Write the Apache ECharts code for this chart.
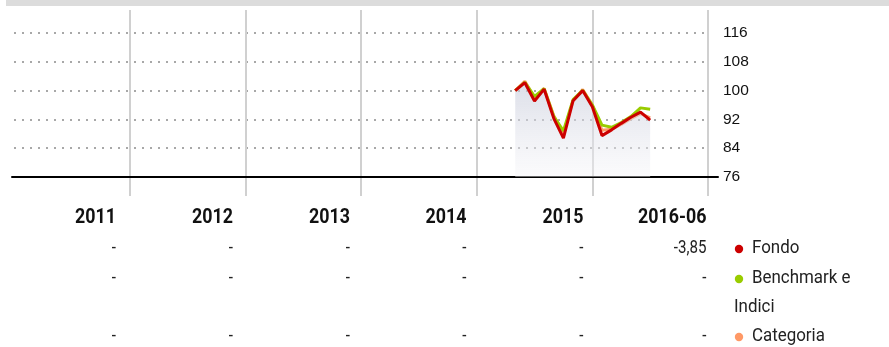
<!DOCTYPE html>
<html>
<head>
<meta charset="utf-8">
<script src="https://cdn.jsdelivr.net/npm/echarts@6/dist/echarts.min.js"></script>
<style>
  html, body { margin: 0; padding: 0; background: #fff; }
  #topbar { position: absolute; left: 6px; top: 0; width: 883px; height: 6px; background: #dcdcdc; }
  #chart { width: 889px; height: 347px; }
</style>
</head>
<body>
<div id="topbar"></div>
<div id="chart"></div>
<script>
// Monthly growth of 100, month-end values
const months = ['2015-04','2015-05','2015-06','2015-07','2015-08','2015-09','2015-10',
                '2015-11','2015-12','2016-01','2016-02','2016-03','2016-04','2016-05','2016-06'];
const fondo      = [100.0, 102.2, 97.1, 100.4, 92.3, 86.8, 97.2, 100.0, 95.5, 87.5, 89.1, 90.9, 92.6, 94.0, 91.8];
const benchmark  = [100.0, 102.3, 98.4, 100.5, 92.8, 88.8, 97.5, 100.1, 96.0, 90.4, 89.8, 91.1, 92.8, 95.2, 94.8];
const categoria  = [100.0, 102.6, 98.0, 100.6, 93.0, 88.2, 97.1, 100.3, 96.0, 89.0, 89.3, 90.6, 92.2, 93.6, 92.4];

// Axis ticks
const yTicks = [76, 84, 92, 100, 108, 116];
const startYear = 2011, endYear = 2017;

// Annual returns table
const years        = ['2011', '2012', '2013', '2014', '2015', '2016-06'];
const fondoRet     = ['-', '-', '-', '-', '-', '-3,85'];
const benchRet     = ['-', '-', '-', '-', '-', '-'];
const categoriaRet = ['-', '-', '-', '-', '-', '-'];
const legendItems  = [
  { name: 'Fondo', color: '#cc0000' },
  { name: 'Benchmark e', name2: 'Indici', color: '#99cc00' },
  { name: 'Categoria', color: '#ff9966' }
];

// month-end position measured in months from Jan 2011
function monthPos(s) {
  const [y, m] = s.split('-').map(Number);
  return (y - startYear) * 12 + m;
}
const toPairs = vals => vals.map((v, i) => [monthPos(months[i]), v]);

const tableFont = 'Roboto, "Liberation Sans", sans-serif';
const xMax = (endYear - startYear) * 12;

const chart = echarts.init(document.getElementById('chart'), null, { renderer: 'canvas' });

// table column right edges and row centres
const colRight = [116, 233, 350, 466.5, 583.5, 706.5];
const rowYear = 218, rowFondo = 248.5, rowBench = 278.5, rowIndici = 307.5, rowCat = 336.5;

// narrow text: horizontally squeezed around its anchor point
function narrowText(x, y, text, font, align, squeeze, fill) {
  return { type: 'text', x: x, y: y, scaleX: squeeze,
    style: { text: text, font: font, fill: fill, align: align, verticalAlign: 'middle' } };
}

const graphics = [];
years.forEach((t, i) => {
  graphics.push(narrowText(colRight[i], rowYear, t, 'bold 21px ' + tableFont, 'right', 0.85, '#111'));
});
[[fondoRet, rowFondo], [benchRet, rowBench], [categoriaRet, rowCat]].forEach(([arr, ry]) => {
  arr.forEach((t, i) => {
    graphics.push(narrowText(colRight[i], ry, t, '18px ' + tableFont, 'right', 0.84, '#222'));
  });
});
const legendRows = [rowFondo, rowBench, rowCat];
legendItems.forEach((it, i) => {
  graphics.push({ type: 'circle', shape: { cx: 739, cy: legendRows[i] + 0.5, r: 4.2 }, style: { fill: it.color } });
  graphics.push(narrowText(752, legendRows[i], it.name, '18px ' + tableFont, 'left', 0.94, '#222'));
  if (it.name2) {
    graphics.push(narrowText(734, rowIndici, it.name2, '18px ' + tableFont, 'left', 0.94, '#222'));
  }
});

chart.setOption({
  animation: false,
  grid: [
    // main plot
    { left: 14, right: 181, top: 33, bottom: 170 },
    // tall year separators
    { left: 14, right: 181, top: 10, bottom: 151 },
    // baseline reaching past the right axis
    { left: 12, right: 171, top: 33, bottom: 170 }
  ],
  xAxis: [
    { gridIndex: 0, type: 'value', min: 0, max: xMax, interval: 12,
      axisLine: { show: false }, axisTick: { show: false }, axisLabel: { show: false },
      splitLine: { show: false } },
    { gridIndex: 1, type: 'value', min: 0, max: xMax, interval: 12,
      axisLine: { show: false }, axisTick: { show: false }, axisLabel: { show: false },
      splitLine: { show: true, showMinLine: false, showMaxLine: true,
        lineStyle: { color: '#d0d0d0', width: 2, type: 'solid' } } },
    { gridIndex: 2, type: 'value', min: 0, max: 1,
      axisLine: { show: true, lineStyle: { color: '#000', width: 2 } },
      axisTick: { show: false }, axisLabel: { show: false }, splitLine: { show: false } }
  ],
  yAxis: [
    { gridIndex: 0, type: 'value', position: 'right', min: yTicks[0], max: yTicks[yTicks.length - 1], interval: 8,
      axisLine: { show: false }, axisTick: { show: false },
      axisLabel: { margin: 15, color: '#111', fontSize: 15.5, fontFamily: '"Liberation Sans", Arial, sans-serif' },
      splitLine: { show: true, showMinLine: false,
        lineStyle: { color: '#a8a8a8', width: 2, type: [2, 6] } } },
    { gridIndex: 1, type: 'value', min: 0, max: 1, show: false },
    { gridIndex: 2, type: 'value', min: 0, max: 1, show: false }
  ],
  series: [
    { name: 'Categoria', type: 'line', xAxisIndex: 0, yAxisIndex: 0, data: toPairs(categoria),
      symbol: 'none', lineStyle: { color: '#ff9966', width: 3 }, z: 3 },
    { name: 'Benchmark e Indici', type: 'line', xAxisIndex: 0, yAxisIndex: 0, data: toPairs(benchmark),
      symbol: 'none', lineStyle: { color: '#99cc00', width: 3 }, z: 4 },
    { name: 'Fondo', type: 'line', xAxisIndex: 0, yAxisIndex: 0, data: toPairs(fondo),
      symbol: 'none', lineStyle: { color: '#cc0000', width: 3 }, z: 5,
      areaStyle: { origin: 'start',
        color: new echarts.graphic.LinearGradient(0, 0, 0, 1, [
          { offset: 0, color: 'rgba(196,200,216,0.85)' },
          { offset: 1, color: 'rgba(246,246,249,0.6)' }
        ]) } }
  ],
  graphic: graphics
});
</script>
</body>
</html>
